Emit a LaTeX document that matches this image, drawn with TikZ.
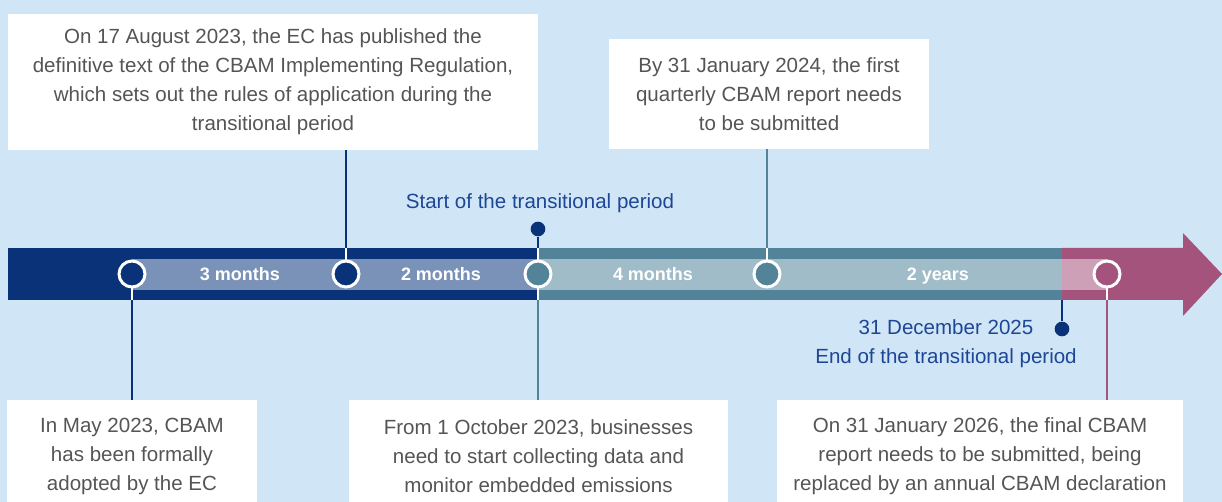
\documentclass[tikz,border=0pt]{standalone}
\usepackage{fontspec}
\setmainfont{Liberation Sans}
\definecolor{bgblue}{RGB}{208,230,246}
\definecolor{navy}{RGB}{9,50,120}
\definecolor{teal}{RGB}{82,131,153}
\definecolor{plum}{RGB}{164,84,124}
\definecolor{navylight}{RGB}{122,146,184}
\definecolor{teallight}{RGB}{160,188,200}
\definecolor{plumlight}{RGB}{206,160,184}
\definecolor{labelblue}{RGB}{30,70,150}
\definecolor{textgrey}{RGB}{85,85,85}
\begin{document}
\begin{tikzpicture}[x=0.75pt,y=-0.75pt,
  infobox/.style={fill=white,align=center,text=textgrey,inner sep=0pt,
    font=\fontsize{15.4}{21.75}\selectfont},
  milestone/.style={circle,draw=white,line width=2.25pt,minimum size=19.5pt,inner sep=0pt},
  period/.style={text=white,anchor=base,font=\fontsize{13.5}{16}\selectfont\bfseries},
  note/.style={text=labelblue,align=center,font=\fontsize{15.4}{21.75}\selectfont},
  dot/.style={circle,fill=navy,minimum size=11pt,inner sep=0pt},
  link/.style={line width=1.9pt}]
  \useasboundingbox (0,0) rectangle (1222,502);
  \clip (0,0) rectangle (1222,502);
  \fill[bgblue] (0,0) rectangle (1222,502);
  \coordinate (bartop) at (0,248);
  \coordinate (barbot) at (0,300);
  % the arrow
  \fill[navy] (8,248) rectangle (538,300);
  \fill[teal] (538,248) rectangle (1062,300);
  \fill[plum] (1062,248) -- (1183,248) -- (1183,233) -- (1222,274) -- (1183,316) -- (1183,300) -- (1062,300) -- cycle;
  \fill[navylight] (132,259) rectangle (538,290);
  \fill[teallight] (538,259) rectangle (1062,290);
  \fill[plumlight] (1062,259) rectangle (1107,290);
  \node[period] (p1) at (240,281) {3 months};
  \node[period] (p2) at (441,281) {2 months};
  \node[period] (p3) at (653,281) {4 months};
  \node[period] (p4) at (938,281) {2 years};
  % boxes
  \node[infobox,minimum width=397.5pt,minimum height=102pt] (aug) at (273,82)
    {On 17 August 2023, the EC has published the\\definitive text of the CBAM Implementing Regulation,\\which sets out the rules of application during the\\transitional period};
  \node[infobox,minimum width=240pt,minimum height=82.5pt] (jan24) at (769,94)
    {By 31 January 2024, the first\\quarterly CBAM report needs\\to be submitted};
  \node[infobox,minimum width=187.5pt,minimum height=84pt] (may) at (132,456)
    {In May 2023, CBAM\\has been formally\\adopted by the EC};
  \node[infobox,minimum width=284pt,minimum height=84pt] (oct) at (538.5,456)
    {From 1 October 2023, businesses\\need to start collecting data and\\monitor embedded emissions};
  \node[infobox,minimum width=304.5pt,minimum height=84pt] (jan26) at (980,456)
    {On 31 January 2026, the final CBAM\\report needs to be submitted, being\\replaced by an annual CBAM declaration};
  % milestones
  \coordinate (c1) at (132,274);
  \coordinate (c2) at (346,274);
  \coordinate (c3) at (538,274);
  \coordinate (c4) at (767,274);
  \coordinate (c5) at (1107,274);
  \node[dot] (start) at (538,229) {};
  \node[note] (startlbl) at (540,203) {Start of the transitional period};
  \node[dot] (end) at (1062,329) {};
  \node[note] (endlbl) at (946,344) {31 December 2025\\End of the transitional period};
  \draw[link,navy] (c1) -- (c1 |- may.north);
  \draw[link,navy] (c2) -- (c2 |- aug.south);
  \draw[link,navy] (start) -- (c3);
  \draw[link,teal] (c3) -- (c3 |- oct.north);
  \draw[link,teal] (c4) -- (c4 |- jan24.south);
  \draw[link,plum] (c5) -- (c5 |- jan26.north);
  \draw[link,navy] (end) -- (end |- barbot);
  \draw[link,white] (c1) -- (c1 |- barbot);
  \draw[link,white] (c2) -- (c2 |- bartop);
  \draw[link,white] (c3 |- bartop) -- (c3 |- barbot);
  \draw[link,white] (c4) -- (c4 |- bartop);
  \draw[link,white] (c5) -- (c5 |- barbot);
  \node[milestone,fill=navy] (m1) at (c1) {};
  \node[milestone,fill=navy] (m2) at (c2) {};
  \node[milestone,fill=teal] (m3) at (c3) {};
  \node[milestone,fill=teal] (m4) at (c4) {};
  \node[milestone,fill=plum] (m5) at (c5) {};
\end{tikzpicture}
\end{document}
